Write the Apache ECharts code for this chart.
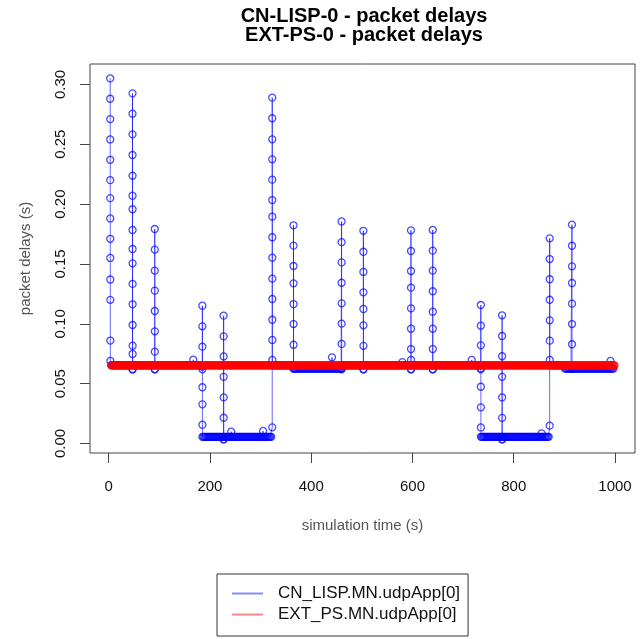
<!DOCTYPE html>
<html>
<head>
<meta charset="utf-8">
<script src="https://cdn.jsdelivr.net/npm/echarts@6/dist/echarts.min.js"></script>
<style>
  html, body { margin: 0; padding: 0; background: #fff; }
  #chart { width: 643px; height: 639px; }
</style>
</head>
<body>
<div id="chart"></div>
<script>
// Axis ticks
const xTicks = [0, 200, 400, 600, 800, 1000];
const yTicks = [0, 0.05, 0.10, 0.15, 0.20, 0.25, 0.30];

// CN_LISP.MN.udpApp[0]: steady delay levels between bursts, as [from s, to s, delay s]
const lispRuns = [
  [5, 45, 0.0655],
  [49, 89, 0.0655],
  [93, 183, 0.0655],
  [187, 321, 0.0056],
  [325, 363, 0.0655],
  [367, 459, 0.0625],
  [463, 733, 0.0655],
  [737, 869, 0.0056],
  [873, 899, 0.0655],
  [901, 997, 0.0625]
];
const lispStep = 2; // seconds between packets during steady periods

// Queueing bursts: time of the burst and the delays of its packets, in order
const burstTimes = [3, 47, 91, 185, 227, 323, 365, 460, 503, 597, 640, 735, 777, 871, 915];
const burstDelays = [
  [0.305, 0.288, 0.271, 0.254, 0.237, 0.220, 0.205, 0.188, 0.171, 0.155, 0.137, 0.120, 0.086, 0.069],
  [0.062, 0.2925, 0.2755, 0.2583, 0.2410, 0.2237, 0.2070, 0.1957, 0.1784, 0.1625, 0.1505, 0.1333, 0.1163, 0.0990, 0.0817, 0.0748, 0.062],
  [0.062, 0.1792, 0.1620, 0.1444, 0.1277, 0.1107, 0.0937, 0.0767, 0.062],
  [0.062, 0.1151, 0.0979, 0.0809, 0.0640, 0.0470, 0.0327, 0.0157, 0.0056],
  [0.0035, 0.1068, 0.0895, 0.0727, 0.0557, 0.0385, 0.0215, 0.0035],
  [0.0135, 0.2889, 0.2717, 0.2541, 0.2374, 0.2204, 0.2034, 0.1895, 0.1723, 0.1552, 0.1377, 0.1207, 0.1034, 0.0865, 0.0698],
  [0.0625, 0.1823, 0.1653, 0.1483, 0.1338, 0.1165, 0.0998, 0.0825, 0.0625],
  [0.0625, 0.1855, 0.1682, 0.1513, 0.1343, 0.1171, 0.1001, 0.0832, 0.062],
  [0.062, 0.1777, 0.1602, 0.1433, 0.1263, 0.1124, 0.0987, 0.0816, 0.062],
  [0.062, 0.1781, 0.1608, 0.1441, 0.1302, 0.1129, 0.0959, 0.0789, 0.0698, 0.062],
  [0.062, 0.1784, 0.1611, 0.1444, 0.1272, 0.1101, 0.0959, 0.0789, 0.062],
  [0.062, 0.1157, 0.0984, 0.0820, 0.0628, 0.0474, 0.0302, 0.0134, 0.0056],
  [0.0035, 0.1071, 0.0898, 0.0729, 0.0557, 0.0385, 0.0214, 0.0035],
  [0.0149, 0.1714, 0.1541, 0.1372, 0.1201, 0.1029, 0.0859, 0.0698],
  [0.0625, 0.1828, 0.1652, 0.1480, 0.1341, 0.1168, 0.0998, 0.0829, 0.0625]
];

// Single out-of-level packets
const strayTimes = [167, 242, 305, 441, 580, 717, 855, 991];
const strayDelays = [0.0700, 0.0099, 0.0105, 0.0720, 0.0680, 0.0698, 0.0085, 0.0690];

// EXT_PS.MN.udpApp[0]: steady delay level, as [from s, to s, delay s]
const psRuns = [
  [5, 1000, 0.0653]
];
const psStep = 2;

const seriesNames = ['CN_LISP.MN.udpApp[0]', 'EXT_PS.MN.udpApp[0]'];

function expandRuns(runs, step) {
  const pts = [];
  runs.forEach(function (r) {
    for (let t = r[0]; t <= r[1]; t += step) pts.push([t, r[2]]);
  });
  return pts;
}

function lispPoints() {
  const pts = expandRuns(lispRuns, lispStep);
  burstTimes.forEach(function (t, b) {
    burstDelays[b].forEach(function (d, i) { pts.push([t + i * 0.02, d]); });
  });
  strayTimes.forEach(function (t, i) { pts.push([t, strayDelays[i]]); });
  pts.sort(function (a, b) { return a[0] - b[0]; });
  return pts;
}

const chart = echarts.init(document.getElementById('chart'), null, { renderer: 'canvas' });
const font = 'Liberation Sans, Arial, Helvetica, sans-serif';

chart.setOption({
  animation: false,
  backgroundColor: '#ffffff',
  textStyle: { fontFamily: font },
  title: {
    text: 'CN-LISP-0 - packet delays\nEXT-PS-0 - packet delays',
    left: 359,
    top: 2,
    textAlign: 'center',
    textStyle: { fontFamily: font, fontSize: 20, fontWeight: 'bold', color: '#000', lineHeight: 19 }
  },
  grid: {
    left: 90, top: 64, right: 8, bottom: 186,
    show: true, borderColor: '#444', borderWidth: 1, backgroundColor: 'transparent'
  },
  xAxis: {
    type: 'value',
    min: -36.9, max: 1039.5,
    axisLine: { show: false, onZero: false },
    splitLine: { show: false },
    axisTick: { show: true, inside: false, customValues: xTicks, length: 10, lineStyle: { color: '#444' } },
    axisLabel: {
      customValues: xTicks, margin: 26, fontSize: 15, color: '#111', fontFamily: font,
      formatter: function (v) { return String(v); }
    },
    name: 'simulation time (s)',
    nameLocation: 'middle',
    nameGap: 65,
    nameTextStyle: { fontSize: 15, color: '#555', fontFamily: font }
  },
  yAxis: {
    type: 'value',
    min: -0.00794, max: 0.31704,
    axisLine: { show: false, onZero: false },
    splitLine: { show: false },
    axisTick: { show: true, inside: false, customValues: yTicks, length: 10, lineStyle: { color: '#444' } },
    axisLabel: {
      customValues: yTicks, rotate: 90, margin: 22, fontSize: 15, color: '#111', fontFamily: font,
      formatter: function (v) { return v.toFixed(2); }
    },
    name: 'packet delays (s)',
    nameLocation: 'middle',
    nameGap: 57,
    nameRotate: 90,
    nameTextStyle: { fontSize: 15, color: '#555', fontFamily: font }
  },
  legend: {
    orient: 'vertical',
    left: 217, top: 574,
    padding: [11, 8, 13, 15],
    itemGap: 4,
    itemWidth: 31, itemHeight: 2,
    borderColor: '#333', borderWidth: 1,
    selectedMode: false,
    textStyle: { fontSize: 17, color: '#111', fontFamily: font, lineHeight: 17, padding: [0, 0, 0, 10] },
    data: [
      { name: seriesNames[0], icon: 'rect', itemStyle: { color: '#8a8aff', borderWidth: 0 } },
      { name: seriesNames[1], icon: 'rect', itemStyle: { color: '#ff8a8a', borderWidth: 0 } }
    ]
  },
  series: [
    {
      name: seriesNames[0],
      type: 'line',
      data: lispPoints(),
      symbol: 'circle',
      symbolSize: 7,
      showAllSymbol: true,
      sampling: 'none',
      lineStyle: { color: 'rgba(0,0,255,0.6)', width: 1 },
      itemStyle: { color: 'rgba(0,0,0,0)', borderColor: 'rgba(0,0,255,0.7)', borderWidth: 1.3 },
      emphasis: { disabled: true }
    },
    {
      name: seriesNames[1],
      type: 'line',
      data: expandRuns(psRuns, psStep),
      symbol: 'circle',
      symbolSize: 7,
      showAllSymbol: true,
      sampling: 'none',
      lineStyle: { color: 'rgba(255,0,0,0.8)', width: 1 },
      itemStyle: { color: 'rgba(0,0,0,0)', borderColor: 'rgba(255,0,0,0.85)', borderWidth: 1.3 },
      emphasis: { disabled: true }
    }
  ]
});
</script>
</body>
</html>
